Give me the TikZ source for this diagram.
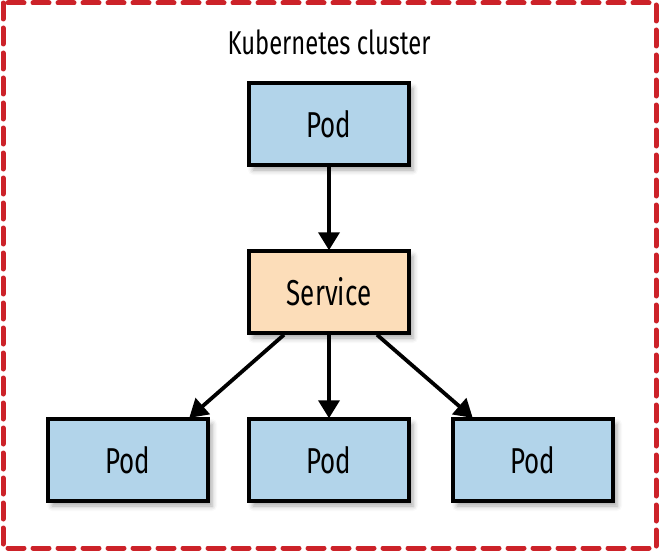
\documentclass[tikz,border=0pt]{standalone}
\usepackage{fontspec}
\setmainfont{Fira Sans}[FakeStretch=0.72]
\usetikzlibrary{arrows.meta,shadows.blur}
\definecolor{podblue}{HTML}{B2D4EA}
\definecolor{svcorange}{HTML}{FCDDB9}
\definecolor{clred}{HTML}{CC2229}
\tikzset{
  box/.style={draw=black, line width=3.5pt, minimum width=160pt, minimum height=82pt, inner sep=0pt,
    font=\fontsize{36}{40}\selectfont,
    blur shadow={shadow xshift=4pt, shadow yshift=-5pt, shadow blur radius=5pt, shadow opacity=35}},
  pod/.style={box, fill=podblue},
  svc/.style={box, fill=svcorange},
  conn/.style={line width=3.8pt, -{Triangle[width=21pt,length=18pt]}, shorten >=-1pt}
}
\begin{document}
\begin{tikzpicture}[x=1pt,y=-1pt]
\useasboundingbox (0,0) rectangle (659,551);
\draw[clred, line width=5pt, dash pattern=on 16pt off 9pt, line cap=round] (3,3) rectangle (656,548);
\node[font=\fontsize{33}{36}\selectfont] (title) at (329,42) {Kubernetes cluster};
\node[pod] (top) at (329,124) {Pod};
\node[svc] (svc) at (329,292) {Service};
\node[pod] (pl) at (128,460) {Pod};
\node[pod] (pm) at (329,460) {Pod};
\node[pod] (pr) at (533,460) {Pod};
\draw[conn] (top.south) -- (svc.north);
\draw[conn] (svc.south) -- (pm.north);
\draw[conn] ([xshift=-45pt]svc.south) -- ([xshift=62pt]pl.north);
\draw[conn] ([xshift=48pt]svc.south) -- ([xshift=-61pt]pr.north);
\end{tikzpicture}
\end{document}
